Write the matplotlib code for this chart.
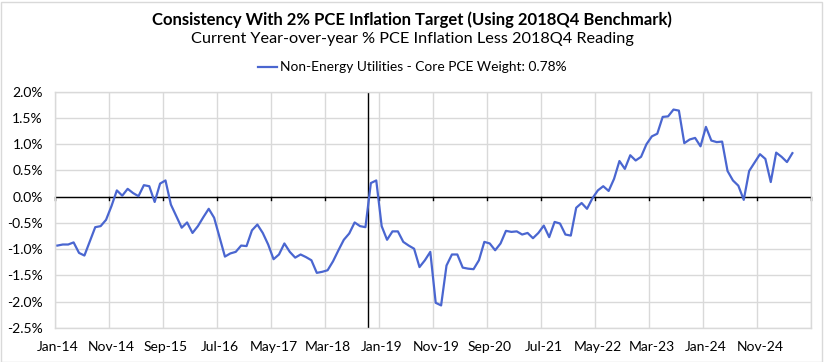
import matplotlib
matplotlib.use("Agg")
import matplotlib.pyplot as plt
import numpy as np
from matplotlib.ticker import FuncFormatter, MultipleLocator

plt.rcParams['font.family'] = ['Lato', 'DejaVu Sans']

# Monthly values, Jan-14 .. May-25 (percentage points)
values = [
    -0.93, -0.91, -0.91, -0.87, -1.07, -1.12, -0.85, -0.58, -0.56, -0.44,
    -0.18, 0.12, 0.02, 0.15, 0.07, 0.01, 0.22, 0.20, -0.10, 0.25,
    0.31, -0.15, -0.37, -0.59, -0.49, -0.69, -0.56, -0.39, -0.23, -0.40,
    -0.77, -1.14, -1.08, -1.05, -0.93, -0.94, -0.64, -0.53, -0.69, -0.91,
    -1.19, -1.10, -0.89, -1.05, -1.16, -1.10, -1.15, -1.21, -1.45, -1.43,
    -1.40, -1.23, -1.02, -0.82, -0.70, -0.49, -0.56, -0.58, 0.26, 0.31,
    -0.56, -0.82, -0.66, -0.66, -0.86, -0.93, -0.99, -1.34, -1.21, -1.05,
    -2.02, -2.07, -1.31, -1.10, -1.10, -1.35, -1.37, -1.38, -1.21, -0.86,
    -0.89, -1.02, -0.89, -0.65, -0.67, -0.66, -0.72, -0.69, -0.79, -0.69,
    -0.55, -0.77, -0.48, -0.51, -0.72, -0.74, -0.21, -0.12, -0.23, -0.03,
    0.12, 0.20, 0.11, 0.34, 0.68, 0.53, 0.79, 0.69, 0.76, 1.00,
    1.15, 1.20, 1.52, 1.53, 1.66, 1.64, 1.02, 1.09, 1.12, 0.96,
    1.33, 1.07, 1.04, 1.05, 0.49, 0.31, 0.21, -0.06, 0.49, 0.65,
    0.81, 0.72, 0.28, 0.84, 0.76, 0.66, 0.83,
]
tick_labels = ["Jan-14", "Nov-14", "Sep-15", "Jul-16", "May-17", "Mar-18", "Jan-19",
               "Nov-19", "Sep-20", "Jul-21", "May-22", "Mar-23", "Jan-24", "Nov-24"]
n_categories = 140
benchmark_index = 58  # 2018Q4 benchmark marker

title = "Consistency With 2% PCE Inflation Target (Using 2018Q4 Benchmark)"
subtitle = "Current Year-over-year % PCE Inflation Less 2018Q4 Reading"
series_name = "Non-Energy Utilities - Core PCE Weight: 0.78%"

fig = plt.figure(figsize=(8.24, 3.62), dpi=100)
ax = fig.add_axes([54.7/824, 34/362, (811.3-54.7)/824, (328-91.7)/362])

x = np.arange(len(values)) + 0.5
line_color = "#4A66D0"
ax.plot(x, values, color=line_color, lw=1.6, zorder=3)

ax.set_xlim(0, n_categories)
ax.set_ylim(-2.5, 2.0)
ax.yaxis.set_major_locator(MultipleLocator(0.5))
ax.yaxis.set_major_formatter(FuncFormatter(lambda v, p: f"{v:.1f}%"))
ax.set_xticks(np.arange(0, n_categories, 10) + 0.5)
ax.set_xticklabels(tick_labels)
ax.set_xticks(np.arange(0, n_categories + 1, 10), minor=True)

ax.grid(True, which='minor', axis='x', color='#D9D9D9', lw=1)
ax.grid(True, which='major', axis='y', color='#D9D9D9', lw=1)
ax.tick_params(axis='both', which='both', length=0, labelsize=10, colors='black')
ax.tick_params(axis='x', pad=9.5)
ax.tick_params(axis='y', pad=8.5)
for s in ax.spines.values():
    s.set_color('#D9D9D9')
    s.set_linewidth(1)

# zero axis line with tick marks
ax.axhline(0, color='black', lw=1, zorder=2)
for t in np.arange(0, n_categories + 1, 10):
    ax.plot([t, t], [0, -0.07], color='black', lw=1, zorder=2, clip_on=False)
# benchmark vertical line
ax.axvline(benchmark_index, color='black', lw=1, zorder=2)

fig.text(0.5, 1 - 20/362, title, ha='center', va='center', fontsize=12, fontweight='bold')
fig.text(0.5, 1 - 39.5/362, subtitle, ha='center', va='center', fontsize=11.7)

# legend
ly = 1 - 67/362
fig.add_artist(plt.Line2D([258/824, 277/824], [ly, ly], color=line_color, lw=1.6))
fig.text(280/824, ly, series_name, ha='left', va='center', fontsize=9.9)

# chart border
fig.add_artist(plt.Rectangle((0.5/824, 0.5/362), 1 - 3/824, 1 - 2/362, transform=fig.transFigure,
                             fill=False, edgecolor='#D9D9D9', lw=1))

fig.savefig("out.png", dpi=100)
